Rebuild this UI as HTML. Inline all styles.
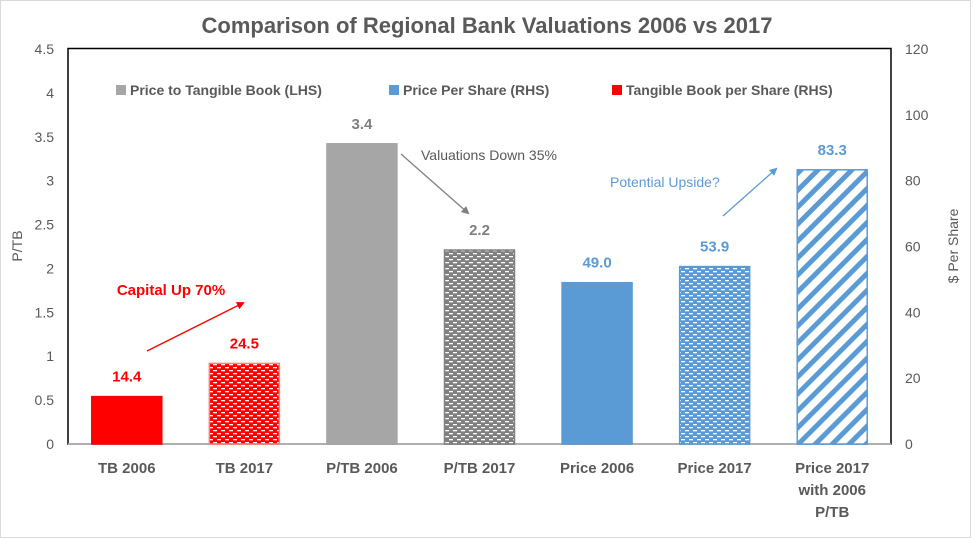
<!DOCTYPE html>
<html><head><meta charset="utf-8"><style>
body{margin:0;background:#fff;}
svg{display:block;font-family:"Liberation Sans",sans-serif;}
</style></head><body>
<svg id="chart" width="975" height="539" viewBox="0 0 975 539">
<defs>
<pattern id="pRed" width="8" height="6" patternUnits="userSpaceOnUse"><rect width="8" height="6" fill="#ff0000"/><rect x="1" y="1" width="4" height="1.3" fill="#fff"/><rect x="5" y="4" width="4" height="1.3" fill="#fff"/><rect x="-3" y="4" width="4" height="1.3" fill="#fff"/></pattern>
<pattern id="pGrey" width="8" height="6" patternUnits="userSpaceOnUse"><rect width="8" height="6" fill="#808080"/><rect x="1" y="1" width="4" height="1.3" fill="#fff"/><rect x="5" y="4" width="4" height="1.3" fill="#fff"/><rect x="-3" y="4" width="4" height="1.3" fill="#fff"/></pattern>
<pattern id="pBlue" width="8" height="6" patternUnits="userSpaceOnUse"><rect width="8" height="6" fill="#5b9bd5"/><rect x="1" y="1" width="4" height="1.3" fill="#fff"/><rect x="5" y="4" width="4" height="1.3" fill="#fff"/><rect x="-3" y="4" width="4" height="1.3" fill="#fff"/></pattern>
<pattern id="pStripe" width="12" height="12" patternUnits="userSpaceOnUse" patternTransform="rotate(45)"><rect width="12" height="12" fill="#fff"/><rect width="5" height="12" fill="#5b9bd5"/></pattern>
<marker id="arRed" markerWidth="8" markerHeight="8" refX="6" refY="4" orient="auto" markerUnits="userSpaceOnUse"><path d="M0,0 L8,4 L0,8 z" fill="#ff0000"/></marker>
<marker id="arGrey" markerWidth="8" markerHeight="8" refX="6" refY="4" orient="auto" markerUnits="userSpaceOnUse"><path d="M0,0 L8,4 L0,8 z" fill="#808080"/></marker>
<marker id="arBlue" markerWidth="8" markerHeight="8" refX="6" refY="4" orient="auto" markerUnits="userSpaceOnUse"><path d="M0,0 L8,4 L0,8 z" fill="#5b9bd5"/></marker>
</defs>
<rect x="0.5" y="0.5" width="970" height="537" fill="#fff" stroke="#d9d9d9"/>
<text x="487" y="33" text-anchor="middle" font-size="22" font-weight="bold" fill="#595959">Comparison of Regional Bank Valuations 2006 vs 2017</text>
<rect x="68" y="48.5" width="823" height="395.5" fill="none" stroke="#000" stroke-width="1.5"/>
<g id="axes"></g>
<g id="bars"></g>
<text transform="translate(22,246) rotate(-90)" text-anchor="middle" font-size="14" fill="#595959">P/TB</text>
<text transform="translate(958,246) rotate(-90)" text-anchor="middle" font-size="14" fill="#595959">$ Per Share</text>
<g font-size="14" font-weight="bold" fill="#595959">
<rect x="116" y="85" width="10" height="10" fill="#a6a6a6"/><text x="130" y="95">Price to Tangible Book (LHS)</text>
<rect x="389" y="85" width="10" height="10" fill="#5b9bd5"/><text x="403" y="95">Price Per Share (RHS)</text>
<rect x="612" y="85" width="10" height="10" fill="#ff0000"/><text x="626" y="95">Tangible Book per Share (RHS)</text>
</g>
<line x1="147" y1="351" x2="243" y2="303" stroke="#ff0000" stroke-width="1.3" marker-end="url(#arRed)"/>
<text x="171" y="295" text-anchor="middle" font-size="15" font-weight="bold" fill="#ff0000">Capital Up 70%</text>
<line x1="401" y1="154" x2="468" y2="213" stroke="#808080" stroke-width="1.3" marker-end="url(#arGrey)"/>
<text x="421" y="160" font-size="14" fill="#595959">Valuations  Down 35%</text>
<line x1="723" y1="216" x2="776" y2="169" stroke="#5b9bd5" stroke-width="1.3" marker-end="url(#arBlue)"/>
<text x="610" y="187" font-size="14" fill="#5b9bd5">Potential  Upside?</text>
</svg>
<script>
const categories=["TB 2006","TB 2017","P/TB  2006","P/TB 2017","Price 2006","Price 2017","Price 2017|with 2006|P/TB"];
const values=[14.4,24.5,3.42,2.21,49.0,53.9,83.3];
const labels=["14.4","24.5","3.4","2.2","49.0","53.9","83.3"];
const axisSide=["R","R","L","L","R","R","R"];
const leftTicks=["0","0.5","1","1.5","2","2.5","3","3.5","4","4.5"];
const rightTicks=["0","20","40","60","80","100","120"];
const fills=["#ff0000","url(#pRed)","#a6a6a6","url(#pGrey)","#5b9bd5","url(#pBlue)","url(#pStripe)"];
const strokes=["#ff0000","#ff8080","#a6a6a6","#808080","#5b9bd5","#5b9bd5","#5b9bd5"];
const labelColors=["#ff0000","#ff0000","#7f7f7f","#7f7f7f","#5b9bd5","#5b9bd5","#5b9bd5"];
const NS="http://www.w3.org/2000/svg";
const X0=68,X1=891,Y0=444,YT=49;
const yL=v=>Y0-(v/4.5)*(Y0-YT);
const yR=v=>Y0-(v/120)*(Y0-YT);
const band=(X1-X0)/categories.length;
const xC=i=>X0+band*(i+0.5);
function mk(t,a){const e=document.createElementNS(NS,t);for(const k in a)e.setAttribute(k,a[k]);return e;}
const axes=document.getElementById('axes'),bars=document.getElementById('bars');
leftTicks.forEach(t=>{const e=mk('text',{x:54,y:yL(+t)+5,'text-anchor':'end','font-size':14,fill:'#595959'});


e.textContent=t;axes.appendChild(e);});
rightTicks.forEach(t=>{const e=mk('text',{x:905,y:yR(+t)+5,'font-size':14,fill:'#595959'});


e.textContent=t;axes.appendChild(e);});
const base=mk('line',{x1:X0,x2:X1,y1:Y0,y2:Y0,stroke:'#bfbfbf','stroke-width':1.5});


axes.appendChild(base);
categories.forEach((c,i)=>{
 const y=axisSide[i]==='L'?yL(values[i]):yR(values[i]);
 const w=70;
 const r=mk('rect',{x:xC(i)-w/2,y:y,width:w,height:Y0-y,fill:fills[i],stroke:strokes[i],'stroke-width':1.5});
 
 
 bars.appendChild(r);
 const l=mk('text',{x:xC(i),y:y-15,'text-anchor':'middle','font-size':15,'font-weight':'bold',fill:labelColors[i]});
 
 
 l.textContent=labels[i];bars.appendChild(l);
 c.split('|').forEach((p,j)=>{const t=mk('text',{x:xC(i),y:473+j*22,'text-anchor':'middle','font-size':15,'font-weight':'bold',fill:'#595959'});
 
 
 t.textContent=p;axes.appendChild(t);});
});
</script>
</body></html>
